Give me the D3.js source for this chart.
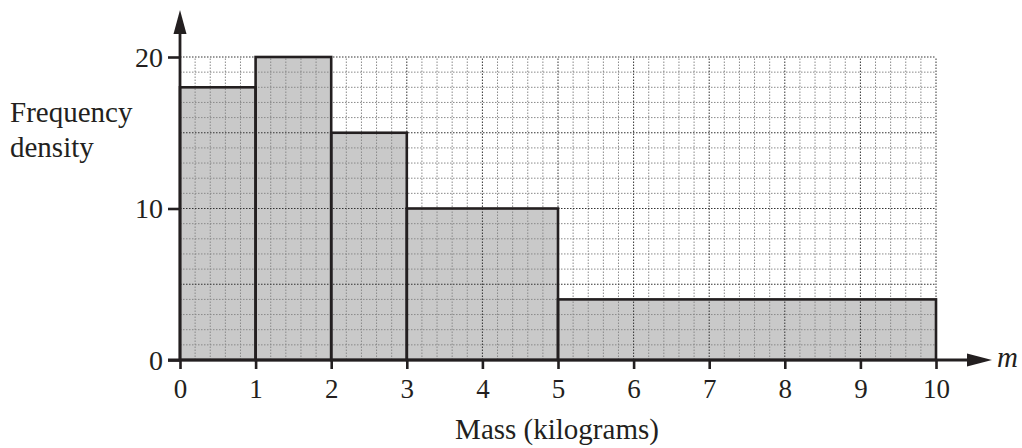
<!DOCTYPE html>
<html>
<head>
<meta charset="utf-8">
<script src="https://cdn.jsdelivr.net/npm/d3@7"></script>
<style>
  html, body { margin: 0; padding: 0; background: #fff; }
  text { font-family: "Liberation Serif", "Times New Roman", serif; fill: #231f20; }
</style>
</head>
<body>
<script>
window.onload = main;

// class boundaries and frequency densities
const binStarts = [0, 1, 2, 3, 5];
const binEnds = [1, 2, 3, 5, 10];
const densities = [18, 20, 15, 10, 4];
const xTicks = [0, 1, 2, 3, 4, 5, 6, 7, 8, 9, 10];
const yTicks = [0, 10, 20];

const svgWidth = 1022;
const svgHeight = 448;
const ink = "#231f20";

function main() {
    const svg = d3.select("body")
        .append("svg")
        .attr("width", svgWidth)
        .attr("height", svgHeight);

    const x = d3.scaleLinear().domain([0, 10]).range([180, 936]);
    const y = d3.scaleLinear().domain([0, 20]).range([360, 57]);

    const bars = binStarts.map((s, i) => ({start: s, end: binEnds[i], value: densities[i]}));

    // bar fills first, grid goes over them
    svg.append("g")
        .selectAll("rect")
        .data(bars)
        .join("rect")
        .attr("x", d => x(d.start))
        .attr("y", d => y(d.value))
        .attr("width", d => x(d.end) - x(d.start))
        .attr("height", d => y(0) - y(d.value))
        .attr("fill", "#c9c9c9");

    const minorX = d3.range(0, 51).map(i => i / 5).filter(v => Math.abs(v - Math.round(v)) > 1e-6);
    const majorX = d3.range(1, 11);
    const minorY = d3.range(1, 21).filter(v => v % 5 !== 0);
    const majorY = [5, 10, 15, 20];

    const grid = svg.append("g").attr("fill", "none").attr("stroke-width", 1);

    const drawV = (vals, color) => grid.append("g")
        .selectAll("line")
        .data(vals)
        .join("line")
        .attr("x1", d => x(d)).attr("x2", d => x(d))
        .attr("y1", y(0)).attr("y2", y(20))
        .attr("stroke", color)
        .attr("stroke-dasharray", "1.5,1.5");

    const drawH = (vals, color) => grid.append("g")
        .selectAll("line")
        .data(vals)
        .join("line")
        .attr("x1", x(0)).attr("x2", x(10))
        .attr("y1", d => y(d)).attr("y2", d => y(d))
        .attr("stroke", color)
        .attr("stroke-dasharray", "1.5,1.5");

    drawV(minorX, "#8a8a8a");
    drawH(minorY, "#8a8a8a");
    drawV(majorX, "#333");
    drawH(majorY, "#333");

    // bar outlines
    svg.append("g")
        .selectAll("rect")
        .data(bars)
        .join("rect")
        .attr("x", d => x(d.start))
        .attr("y", d => y(d.value))
        .attr("width", d => x(d.end) - x(d.start))
        .attr("height", d => y(0) - y(d.value))
        .attr("fill", "none")
        .attr("stroke", ink)
        .attr("stroke-width", 2.6);

    // axes
    const xAxis = d3.axisBottom(x)
        .tickValues(xTicks)
        .tickSize(9)
        .tickPadding(4)
        .tickFormat(d3.format("d"));

    const gx = svg.append("g")
        .attr("transform", `translate(0,${y(0)})`)
        .call(xAxis);
    gx.select(".domain").remove();
    gx.selectAll(".tick line").attr("stroke", ink).attr("stroke-width", 2.6);
    gx.selectAll(".tick text")
        .attr("fill", ink)
        .attr("y", 38)
        .attr("dy", 0)
        .style("font-family", "'Liberation Serif', serif")
        .style("font-size", "27px");

    const yAxis = d3.axisLeft(y)
        .tickValues(yTicks)
        .tickSize(12)
        .tickPadding(5)
        .tickFormat(d3.format("d"));

    const gy = svg.append("g")
        .attr("transform", `translate(${x(0)},0)`)
        .call(yAxis);
    gy.select(".domain").remove();
    gy.selectAll(".tick line").attr("stroke", ink).attr("stroke-width", 2.6);
    gy.selectAll(".tick text")
        .attr("fill", ink)
        .attr("dy", "0.33em")
        .style("font-family", "'Liberation Serif', serif")
        .style("font-size", "28px");

    // axis lines with arrows
    svg.append("line")
        .attr("x1", 168).attr("x2", 970)
        .attr("y1", y(0)).attr("y2", y(0))
        .attr("stroke", ink).attr("stroke-width", 2.8);
    svg.append("line")
        .attr("x1", x(0)).attr("x2", x(0))
        .attr("y1", y(0)).attr("y2", 30)
        .attr("stroke", ink).attr("stroke-width", 2.8);

    svg.append("path")
        .attr("d", `M992,${y(0)} L967,${y(0) - 6.5} L967,${y(0) + 6.5} Z`)
        .attr("fill", ink);
    svg.append("path")
        .attr("d", `M${x(0)},10 L${x(0) - 6.5},34 L${x(0) + 6.5},34 Z`)
        .attr("fill", ink);

    svg.append("text")
        .attr("x", 997)
        .attr("y", 367)
        .style("font-size", "29px")
        .style("font-style", "italic")
        .text("m");

    svg.append("text")
        .attr("x", 10)
        .attr("y", 122)
        .style("font-size", "29px")
        .text("Frequency");
    svg.append("text")
        .attr("x", 10)
        .attr("y", 157)
        .style("font-size", "29px")
        .text("density");

    svg.append("text")
        .attr("x", 557)
        .attr("y", 439)
        .attr("text-anchor", "middle")
        .style("font-size", "29px")
        .text("Mass (kilograms)");
}
</script>
</body>
</html>
